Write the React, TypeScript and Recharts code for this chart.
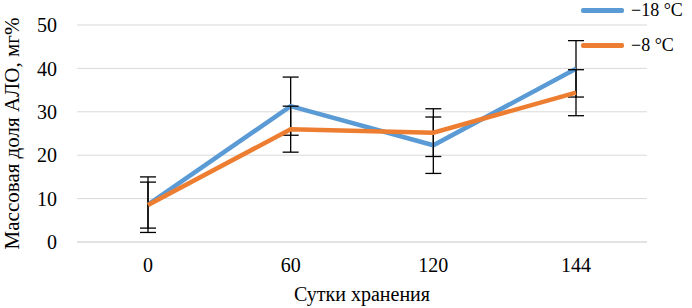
import React from "react";
import { LineChart, Line, XAxis, YAxis, CartesianGrid, ErrorBar } from "recharts";

const categories = ["0", "60", "120", "144"];
const seriesMinus18 = [8.6, 31.3, 22.3, 39.9];
const errMinus18 = [6.4, 6.7, 6.5, 6.5];
const seriesMinus8 = [8.5, 26.0, 25.2, 34.4];
const errMinus8 = [5.3, 5.3, 5.5, 5.3];
const yTicks = [0, 10, 20, 30, 40, 50];
const legendLabels = ["−18 °C", "−8 °C"];

const data = categories.map((c, i) => ({
  day: c,
  a: seriesMinus18[i],
  ea: errMinus18[i],
  b: seriesMinus8[i],
  eb: errMinus8[i],
}));

const FONT = "'Times New Roman', 'Liberation Serif', Tinos, 'DejaVu Serif', serif";
const BLUE = "#5B9BD5";
const ORANGE = "#ED7D31";

export default function App() {
  return (
    <div style={{ position: "absolute", left: 0, top: 0, width: 692, height: 308, background: "#fff", fontFamily: FONT }}>
      <LineChart width={692} height={308} data={data} margin={{ top: 25, right: 45, bottom: 0, left: 0 }} style={{ fontFamily: FONT }}>
        <CartesianGrid vertical={false} stroke="#d9d9d9" />
        <XAxis
          dataKey="day"
          padding={{ left: 71, right: 71 }}
          axisLine={{ stroke: "#d9d9d9" }}
          tickLine={false}
          tickSize={0}
          tickMargin={16}
          height={66}
          tick={{ fontFamily: FONT, fontSize: 20, fill: "#000" }}
          label={{ value: "Сутки хранения", position: "insideBottom", offset: 7, style: { fontFamily: FONT, fontSize: 20, fill: "#000" } }}
        />
        <YAxis
          domain={[0, 50]}
          ticks={yTicks}
          width={77}
          axisLine={false}
          tickLine={false}
          tickSize={0}
          tickMargin={20}
          tick={{ fontFamily: FONT, fontSize: 20, fill: "#000" }}
          label={{ value: "Массовая доля АЛО, мг%", angle: -90, position: "insideLeft", offset: 12, style: { textAnchor: "middle", fontFamily: FONT, fontSize: 21, fill: "#000" } }}
        />
        <Line type="linear" dataKey="a" name={legendLabels[0]} stroke={BLUE} strokeWidth={4.5} dot={false} isAnimationActive={false}>
          <ErrorBar dataKey="ea" stroke="#000" strokeWidth={1.3} width={8} />
        </Line>
        <Line type="linear" dataKey="b" name={legendLabels[1]} stroke={ORANGE} strokeWidth={4.5} dot={false} isAnimationActive={false}>
          <ErrorBar dataKey="eb" stroke="#000" strokeWidth={1.3} width={8} />
        </Line>
      </LineChart>
      <div style={{ position: "absolute", left: 581, top: 1, fontFamily: FONT, fontSize: 18, color: "#000", lineHeight: "18px" }}>
        <div style={{ display: "flex", alignItems: "center" }}>
          <div style={{ width: 43, height: 5, background: BLUE, borderRadius: 2, marginRight: 7 }} />
          <span style={{ whiteSpace: "nowrap" }}>{legendLabels[0]}</span>
        </div>
        <div style={{ display: "flex", alignItems: "center", marginTop: 17 }}>
          <div style={{ width: 43, height: 5, background: ORANGE, borderRadius: 2, marginRight: 7 }} />
          <span style={{ whiteSpace: "nowrap" }}>{legendLabels[1]}</span>
        </div>
      </div>
    </div>
  );
}
